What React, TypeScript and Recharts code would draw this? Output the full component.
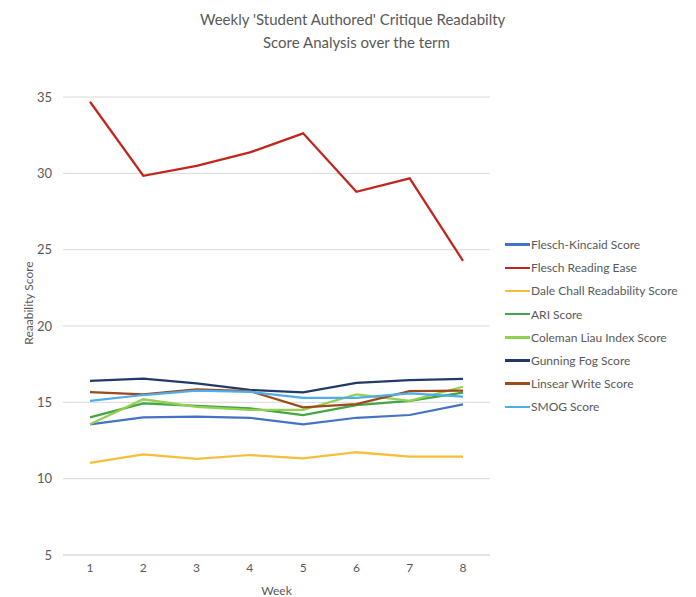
import { CartesianGrid, Line, LineChart, XAxis, YAxis } from "recharts";

const weeks = ["1", "2", "3", "4", "5", "6", "7", "8"];
const fleschKincaid = [13.56, 14.02, 14.06, 13.99, 13.56, 13.99, 14.17, 14.87];
const fleschReadingEase = [34.69, 29.84, 30.49, 31.37, 32.62, 28.79, 29.67, 24.27];
const daleChall = [11.04, 11.59, 11.29, 11.55, 11.33, 11.73, 11.44, 11.44];
const ari = [14.02, 14.93, 14.76, 14.61, 14.17, 14.82, 15.09, 15.63];
const colemanLiau = [13.56, 15.2, 14.71, 14.5, 14.5, 15.52, 15.09, 16.02];
const gunningFog = [16.41, 16.55, 16.24, 15.81, 15.66, 16.28, 16.46, 16.53];
const linsearWrite = [15.67, 15.52, 15.85, 15.74, 14.67, 14.89, 15.74, 15.76];
const smog = [15.09, 15.48, 15.76, 15.69, 15.3, 15.3, 15.59, 15.37];
const yTicks = [5, 10, 15, 20, 25, 30, 35];

const series = [
  { key: "fk", name: "Flesch-Kincaid Score", values: fleschKincaid, color: "#4472C4" },
  { key: "fre", name: "Flesch Reading Ease", values: fleschReadingEase, color: "#C0261E" },
  { key: "dc", name: "Dale Chall Readability Score", values: daleChall, color: "#F6BE3B" },
  { key: "ari", name: "ARI Score", values: ari, color: "#43A546" },
  { key: "cl", name: "Coleman Liau Index Score", values: colemanLiau, color: "#92D050" },
  { key: "gf", name: "Gunning Fog Score", values: gunningFog, color: "#223A69" },
  { key: "lw", name: "Linsear Write Score", values: linsearWrite, color: "#9C4A1A" },
  { key: "smog", name: "SMOG Score", values: smog, color: "#4FADEA" },
];

const data = weeks.map((week, i) => {
  const row: Record<string, string | number> = { week };
  series.forEach((s) => {
    row[s.key] = s.values[i];
  });
  return row;
});

const font = "Lato, 'Open Sans', sans-serif";
const textColor = "#595959";

export default function App() {
  return (
    <div style={{ position: "absolute", left: 0, top: 0, width: 696, height: 597, background: "#fff", fontFamily: font }}>
      <div style={{ position: "absolute", left: 200, top: 10, fontSize: 15, color: textColor, whiteSpace: "nowrap" }}>
        Weekly 'Student Authored' Critique Readabilty
      </div>
      <div style={{ position: "absolute", left: 263, top: 33, fontSize: 15, color: textColor, whiteSpace: "nowrap" }}>
        Score Analysis over the term
      </div>
      <div
        style={{
          position: "absolute",
          left: 28,
          top: 303,
          transform: "translate(-50%, -50%) rotate(-90deg)",
          fontSize: 12,
          color: textColor,
          whiteSpace: "nowrap",
        }}
      >
        Reaability Score
      </div>
      <LineChart width={696} height={597} data={data} margin={{ top: 97, right: 206, bottom: 0, left: 0 }}>
        <CartesianGrid stroke="#d9d9d9" vertical={false} />
        <XAxis
          dataKey="week"
          axisLine={{ stroke: "#d9d9d9" }}
          tickLine={false}
          height={42}
          padding={{ left: 27, right: 27 }}
          tick={{ fontSize: 12, fill: textColor, fontFamily: font }}
          label={{ value: "Week", position: "insideBottom", offset: 2, fontSize: 12, fill: textColor, fontFamily: font }}
        />
        <YAxis
          domain={[5, 35]}
          ticks={yTicks}
          width={63}
          axisLine={false}
          tickLine={false}
          tickMargin={5}
          tick={{ fontSize: 13, fill: textColor, fontFamily: font }}
        />
        {series.map((s) => (
          <Line
            key={s.key}
            dataKey={s.key}
            name={s.name}
            stroke={s.color}
            strokeWidth={2.25}
            dot={false}
            type="linear"
            isAnimationActive={false}
          />
        ))}
      </LineChart>
      <div style={{ position: "absolute", left: 505, top: 233 }}>
        {series.map((s) => (
          <div key={s.key} style={{ display: "flex", alignItems: "center", height: 23.2, fontSize: 12, color: textColor }}>
            <span style={{ display: "inline-block", width: 25, height: 2.5, background: s.color, marginRight: 1 }} />
            {s.name}
          </div>
        ))}
      </div>
    </div>
  );
}
